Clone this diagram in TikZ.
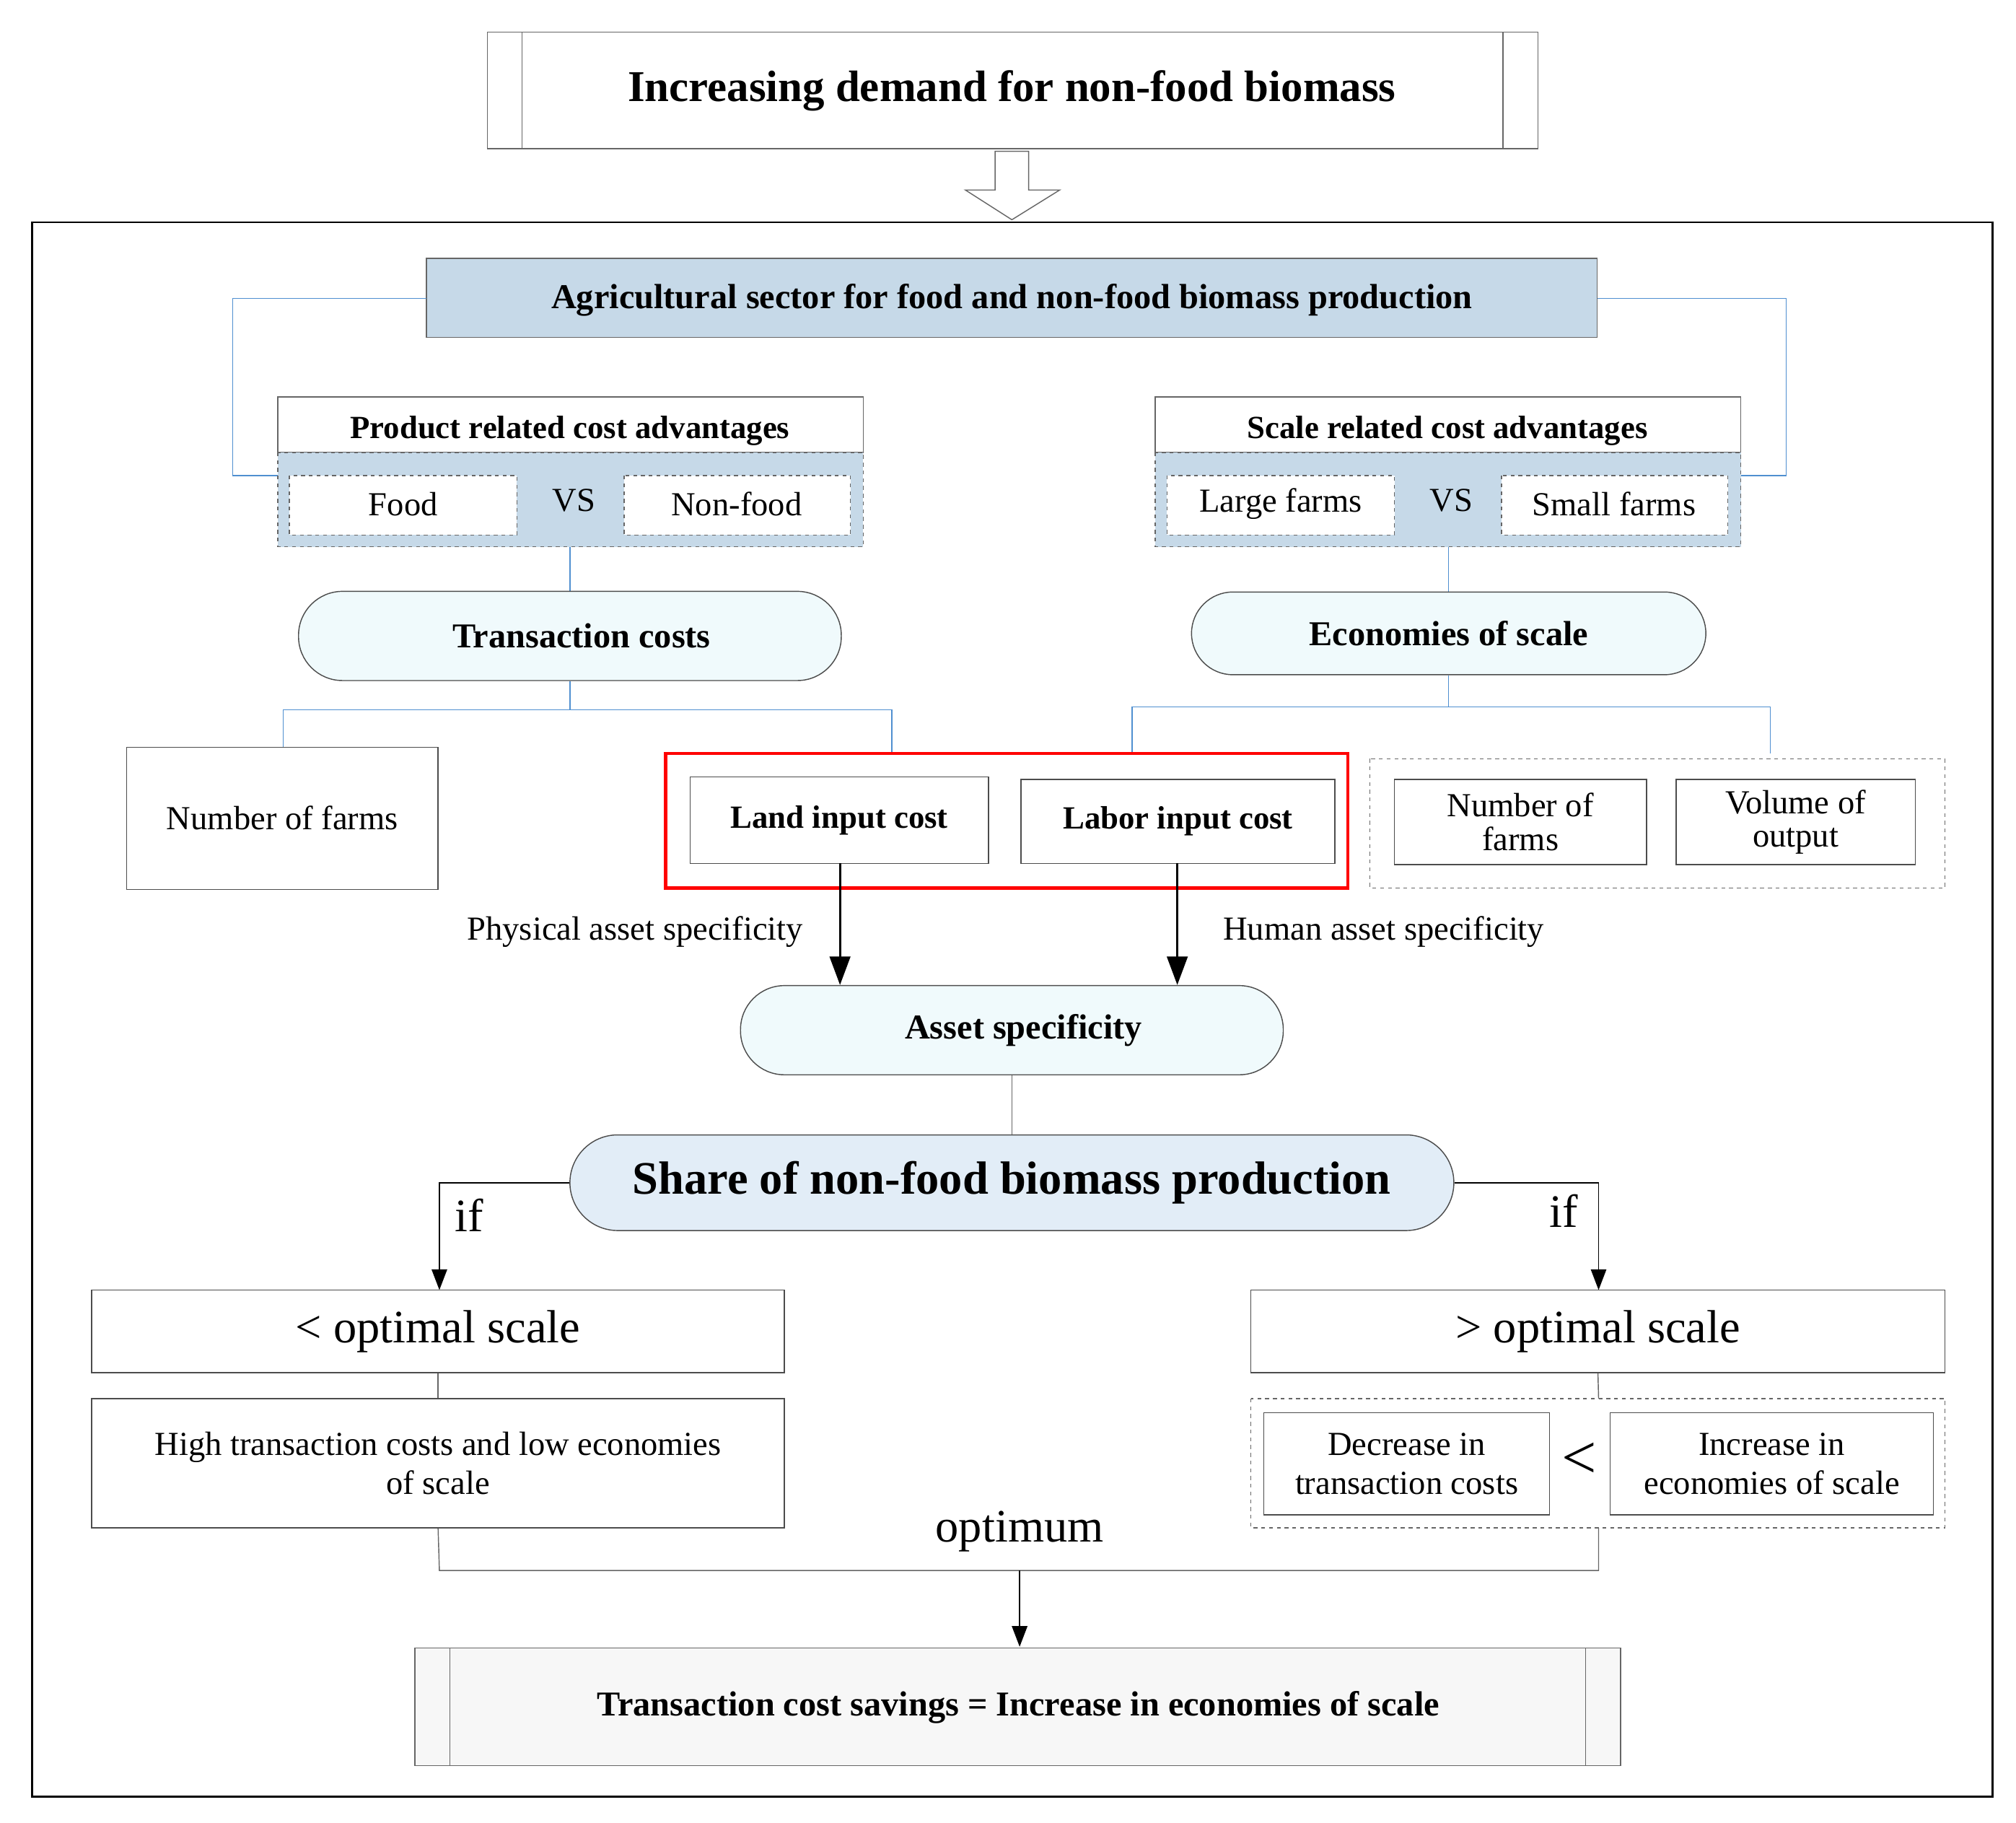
\documentclass[tikz,border=0pt]{standalone}
\usepackage{fontspec}
\setmainfont{Liberation Serif}
\usetikzlibrary{arrows.meta}
\definecolor{agri}{HTML}{C6D9E8}
\definecolor{pill}{HTML}{F0FAFC}
\definecolor{share}{HTML}{E2EDF7}
\definecolor{conn}{HTML}{4F8FD0}
\tikzset{
  box/.style={draw=black!70, line width=0.8pt, fill=white, inner sep=0pt},
  dbox/.style={draw=black!60, dashed, line width=0.8pt, fill=white, inner sep=0pt},
  blue line/.style={draw=conn, line width=0.8pt},
  gray line/.style={draw=black!60, line width=0.8pt},
  txt/.style={font=\fontsize{26}{30}\selectfont, align=center},
  btxt/.style={font=\bfseries\fontsize{27}{31}\selectfont, align=center},
  arr/.style={-{Triangle[length=22pt,width=16pt]}, line width=1.5pt},
  sarr/.style={-{Triangle[length=16pt,width=12pt]}, line width=0.9pt}
}
\begin{document}
\begin{tikzpicture}[x=1pt,y=-1pt]
\useasboundingbox (0,0) rectangle (1560,1410);
% title
\draw[gray line] (377,25) rectangle (1190,115) (404,25) -- (404,115) (1163,25) -- (1163,115);
\node[font=\bfseries\fontsize{34}{40}\selectfont] (title) at (783,70) {Increasing demand for non-food biomass};
\draw[gray line, fill=white] (770,117) -- (796,117) -- (796,147) -- (820,147) -- (783,170) -- (747,147) -- (770,147) -- cycle;
% frame
\draw[line width=1.6pt] (25,172) rectangle (1542,1390);
% agricultural sector
\draw[gray line, fill=agri] (330,200) rectangle (1236,261);
\node[btxt] (agri) at (783,232) {Agricultural sector for food and non-food biomass production};
\draw[blue line] (330,231) -- (180,231) -- (180,368) -- (215,368);
\draw[blue line] (1236,231) -- (1382,231) -- (1382,368) -- (1347,368);
% product / scale
\foreach \x/\t/\a/\b in {215/Product/Food/Non-food, 894/Scale/Large farms/Small farms}{
  \draw[gray line] (\x,307) rectangle ++(453,43);
  \draw[gray line, dashed, fill=agri] (\x,350) rectangle ++(453,73);
  \node[btxt, font=\bfseries\fontsize{25}{30}\selectfont] at (\x+226,333) {\t\ related cost advantages};
  \draw[dbox] (\x+9,368) rectangle ++(176,46);
  \draw[dbox] (\x+268,368) rectangle ++(175,46);
  \node[txt] at (\x+97,390) {\a};
  \node[txt] at (\x+355,390) {\b};
  \node[txt] at (\x+229,387) {VS};
}
\draw[blue line] (441,423) -- (441,458);
\draw[blue line] (1121,423) -- (1121,458);
% pills
\node[btxt, draw=black!70, line width=0.8pt, fill=pill, rounded corners=34pt, minimum width=420pt, minimum height=69pt] (tc) at (441,492) {\hspace{18pt}Transaction costs};
\node[btxt, draw=black!70, line width=0.8pt, fill=pill, rounded corners=32pt, minimum width=398pt, minimum height=64pt] (es) at (1121,490) {Economies of scale};
\draw[blue line] (tc.south) -- (441,549) -- (219,549) -- (219,583);
\draw[blue line] (441,549) -- (690,549) -- (690,583);
\draw[blue line] (es.south) -- (1121,547);
\draw[blue line] (876,583) -- (876,547) -- (1370,547) -- (1370,583);
% cost boxes
\node[box, txt, minimum width=241pt, minimum height=110pt] (nf) at (218.5,633) {Number of farms};
\draw[red, line width=2.5pt] (515,583) rectangle (1043,687);
\node[box, btxt, font=\bfseries\fontsize{25}{30}\selectfont, minimum width=231pt, minimum height=67pt] (land) at (649.5,634.5) {Land input cost};
\node[box, btxt, font=\bfseries\fontsize{25}{30}\selectfont, minimum width=243pt, minimum height=65pt] (labor) at (911.5,635.5) {Labor input cost};
\draw[gray line, dashed] (1060,587) rectangle (1505,687);
\node[box, txt, minimum width=195pt, minimum height=66pt] (nf2) at (1176.5,636) {Number of\\[-4pt]farms};
\node[box, txt, minimum width=185pt, minimum height=66pt] (vo) at (1389.5,636) {Volume of\\[-4pt]output};
% asset specificity
\node[btxt, draw=black!70, line width=0.8pt, fill=pill, rounded corners=34pt, minimum width=420pt, minimum height=69pt] (as) at (783,797) {\hspace{18pt}Asset specificity};
\draw[arr] (650,668) -- (650,762);
\draw[arr] (911,668) -- (911,762);
\node[txt, anchor=east] (pas) at (625,721) {Physical asset specificity};
\node[txt, anchor=west] (has) at (943,721) {Human asset specificity};
\node[font=\bfseries\fontsize{36}{42}\selectfont, draw=black!70, line width=0.8pt, fill=share, rounded corners=37pt, minimum width=684pt, minimum height=74pt] (sh) at (783,915) {Share of non-food biomass production};
\draw[gray line] (as.south) -- (sh.north);
\draw[sarr] (sh.west) -- (340,915) -- (340,998);
\draw[sarr] (sh.east) -- (1237,915) -- (1237,998);
\node[font=\fontsize{36}{40}\selectfont] (if1) at (363,940) {if};
\node[font=\fontsize{36}{40}\selectfont] (if2) at (1210,937) {if};
% outcomes
\node[box, font=\fontsize{36}{40}\selectfont, minimum width=536pt, minimum height=64pt] (lo) at (339,1030) {< optimal scale};
\node[box, font=\fontsize{36}{40}\selectfont, minimum width=537pt, minimum height=64pt] (hi) at (1236.5,1030) {> optimal scale};
\node[box, txt, minimum width=536pt, minimum height=100pt] (high) at (339,1132) {High transaction costs and low economies\\of scale};
\draw[gray line] (lo.south) -- (high.north);
\draw[gray line, dashed] (968,1082) rectangle (1505,1182);
\draw[gray line] (hi.south) -- (1237,1082);
\node[box, txt, minimum width=221pt, minimum height=79pt] (dec) at (1088.5,1132.5) {Decrease in\\transaction costs};
\node[box, txt, minimum width=250pt, minimum height=79pt] (inc) at (1371,1132.5) {Increase in\\economies of scale};
\node[font=\fontsize{48}{50}\selectfont] (lt) at (1222,1130) {<};
% optimum
\coordinate (m) at (789,1215);
\draw[gray line] (high.south) -- (340,1215) -- (1237,1215) -- (1237,1182);
\node[font=\fontsize{36}{40}\selectfont] (opt) at (789,1185) {optimum};
\draw[gray line, fill=black!3] (321,1275) rectangle (1254,1366) (348,1275) -- (348,1366) (1227,1275) -- (1227,1366);
\node[btxt] (sav) at (788,1321) {Transaction cost savings = Increase in economies of scale};
\draw[sarr] (m) -- (789,1274);
\end{tikzpicture}
\end{document}
